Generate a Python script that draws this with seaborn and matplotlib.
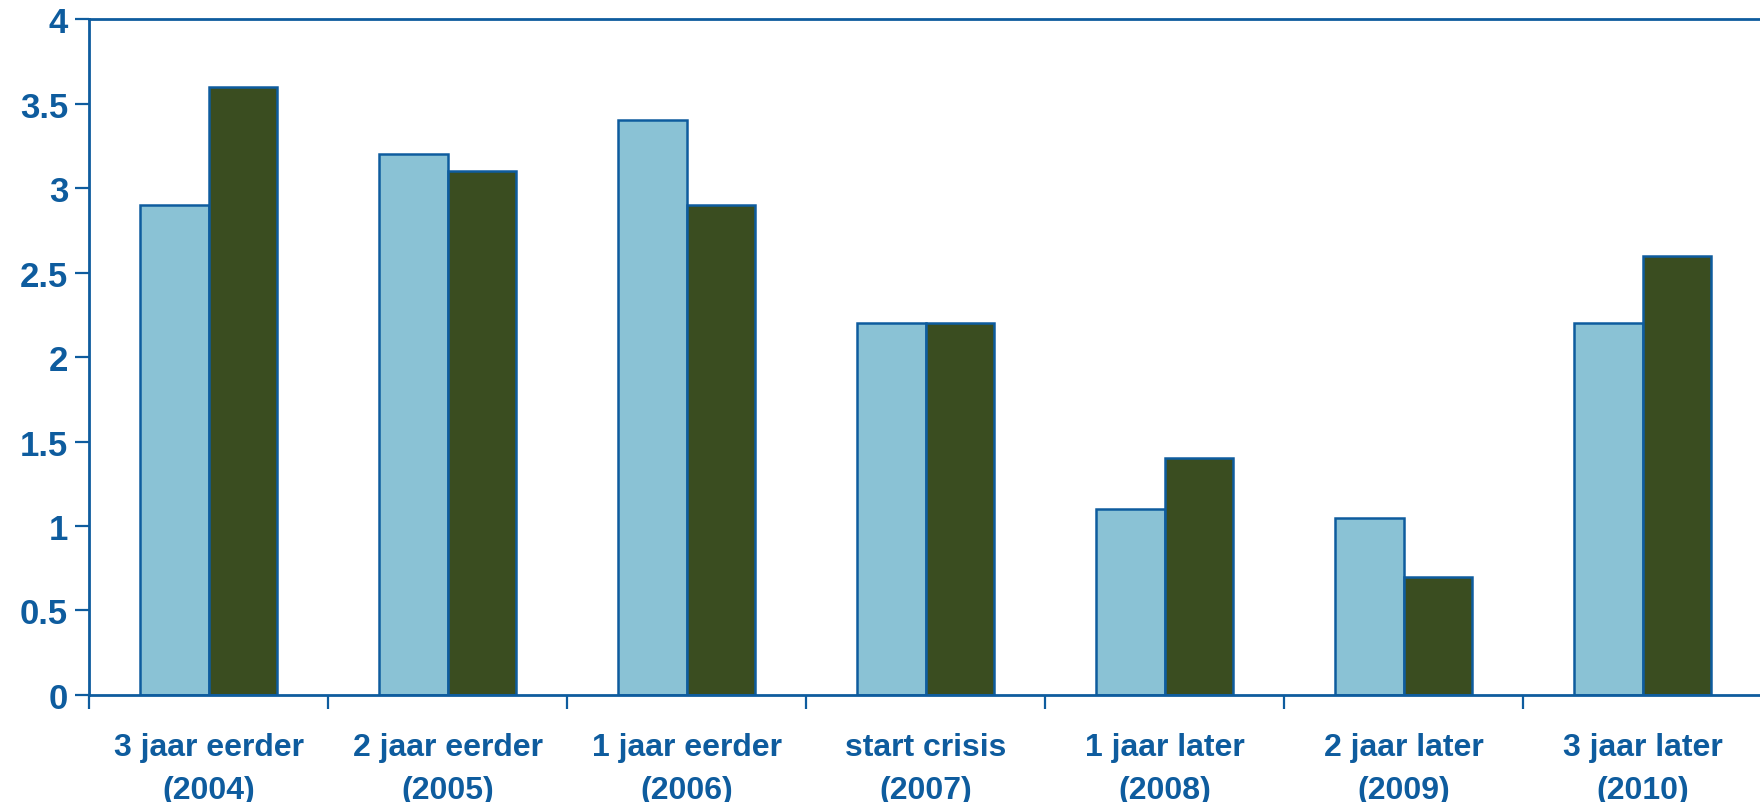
import matplotlib
matplotlib.use("Agg")
import matplotlib.pyplot as plt
import seaborn as sns
import pandas as pd

categories = ["3 jaar eerder\n(2004)", "2 jaar eerder\n(2005)", "1 jaar eerder\n(2006)",
              "start crisis\n(2007)", "1 jaar later\n(2008)", "2 jaar later\n(2009)",
              "3 jaar later\n(2010)"]
series_names = ["Serie 1", "Serie 2"]
serie1 = [2.9, 3.2, 3.4, 2.2, 1.1, 1.05, 2.2]
serie2 = [3.6, 3.1, 2.9, 2.2, 1.4, 0.7, 2.6]
yticks = [0, 0.5, 1, 1.5, 2, 2.5, 3, 3.5, 4]
ytick_labels = ["0", "0.5", "1", "1.5", "2", "2.5", "3", "3.5", "4"]

df = pd.DataFrame({
    "cat": categories * 2,
    "serie": [series_names[0]] * len(categories) + [series_names[1]] * len(categories),
    "val": serie1 + serie2,
})

sns.set_style("white")
plt.rcParams['font.family'] = ['Liberation Sans', 'DejaVu Sans']

blue = "#0E5C9E"
fig = plt.figure(figsize=(17.6, 8.03), dpi=100)
ax = fig.add_axes([0.0506, 0.1333, 0.9506, 0.8417])

sns.barplot(data=df, x="cat", y="val", hue="serie", order=categories,
            hue_order=series_names, palette=["#8AC2D5", "#3A4D20"],
            width=0.57, gap=0, edgecolor=blue, linewidth=1.8,
            legend=False, ax=ax, saturation=1)

ax.set_xlim(-0.5, len(categories) - 0.5)
ax.set_ylim(0, 4)
ax.set_yticks(yticks)
ax.set_yticklabels(ytick_labels)
ax.set_xlabel("")
ax.set_ylabel("")

# category boundary ticks (major) and labels at centers (minor)
ax.set_xticks([i - 0.5 for i in range(len(categories) + 1)])
ax.set_xticklabels([""] * (len(categories) + 1))
ax.set_xticks(range(len(categories)), minor=True)
ax.set_xticklabels(categories, minor=True)
ax.tick_params(axis="x", which="minor", bottom=True, length=0, pad=27)
ax.tick_params(axis="x", which="major", bottom=True, length=10, width=1.6,
               color=blue, direction="out")
ax.tick_params(axis="y", left=True, length=10, width=1.6, color=blue,
               direction="out", pad=5)

for lab in ax.get_xticklabels(minor=True):
    lab.set_fontsize(23)
    lab.set_fontweight("bold")
    lab.set_color(blue)
    lab.set_linespacing(1.55)
for lab in ax.get_yticklabels():
    lab.set_fontsize(25)
    lab.set_fontweight("bold")
    lab.set_color(blue)

for side in ["left", "bottom", "top"]:
    ax.spines[side].set_visible(True)
    ax.spines[side].set_color(blue)
    ax.spines[side].set_linewidth(2)
ax.spines["right"].set_visible(False)

fig.savefig("out.png", dpi=100)
